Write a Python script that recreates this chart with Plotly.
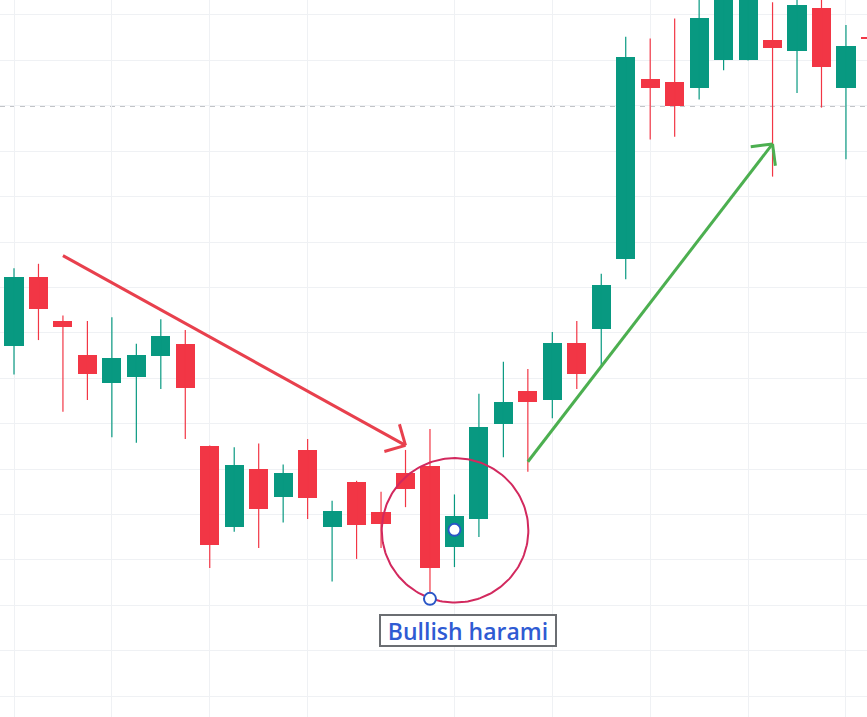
import math
import plotly.graph_objects as go

# ---------------- data ----------------
candle_idx = list(range(36))
opens = [238.5, 246.1, 241.3, 237.6, 234.5, 235.1, 237.4, 238.8, 227.5, 218.6, 225.0, 221.9,
         227.1, 218.6, 223.6, 220.3, 224.6, 225.3, 216.4, 219.5, 230.0, 233.6, 232.6, 238.9,
         240.4, 248.1, 268.0, 267.6, 267.0, 270.0, 270.0, 272.2, 271.0, 275.8, 267.0, 272.6]
highs = [247.1, 247.6, 241.9, 241.3, 241.7, 238.8, 241.5, 240.3, 227.6, 227.4, 227.8, 225.5,
         228.3, 221.5, 223.7, 222.5, 227.1, 229.4, 222.2, 233.3, 236.8, 236.0, 240.1, 241.3,
         246.5, 272.6, 272.4, 274.6, 278.3, 280.5, 283.0, 276.4, 277.8, 277.5, 273.9, 273.0]
lows = [235.4, 239.2, 231.3, 232.6, 228.5, 227.9, 233.8, 228.3, 214.1, 218.1, 216.3, 219.1,
        219.5, 212.6, 215.1, 216.3, 220.8, 210.7, 214.2, 217.5, 226.3, 224.7, 230.6, 233.8,
        236.3, 245.9, 261.3, 261.6, 265.7, 268.9, 270.0, 257.2, 266.4, 264.8, 259.1, 272.0]
closes = [246.1, 242.6, 240.6, 235.5, 237.2, 237.6, 239.6, 233.9, 216.6, 225.4, 220.6, 224.6,
          221.8, 220.4, 218.8, 218.9, 222.8, 214.1, 219.8, 229.6, 232.4, 232.4, 238.9, 235.5,
          245.3, 270.4, 267.0, 265.0, 274.7, 278.9, 281.0, 271.4, 276.1, 269.3, 271.6, 272.4]

grid_x = [0, 4, 8, 12, 18, 22, 26, 30, 34]
grid_y = [200, 205, 210, 215, 220, 225, 230, 235, 240, 245, 250, 255, 260, 265, 270, 275]
dashed_level = 265.0

red_arrow_x = [2.0, 16.0]
red_arrow_y = [248.5, 227.6]
green_arrow_x = [21.0, 31.0]
green_arrow_y = [225.8, 260.8]

circle_x = [15.03, 21.02]
circle_y = [210.3, 226.2]

marker_x = [17, 18]
marker_y = [210.7, 218.3]

label_text = "Bullish harami"
label_x = 18.55
label_y = 207.2

# ---------------- styling ----------------
W, H = 867, 717
X_RANGE = [-0.572, 34.86]
Y_RANGE = [197.69, 276.65]
UP = "#089981"
DOWN = "#F23645"

fig = go.Figure()

# candle bodies
body_base = [min(o, c) for o, c in zip(opens, closes)]
body_len = [max(abs(c - o), 0.15) for o, c in zip(opens, closes)]
body_col = [UP if c >= o else DOWN for o, c in zip(opens, closes)]
fig.add_trace(go.Bar(x=candle_idx, y=body_len, base=body_base, width=0.78,
                     marker=dict(color=body_col, line=dict(width=0)),
                     hoverinfo="skip"))

# wicks
for col, cond in ((UP, lambda o, c: c >= o), (DOWN, lambda o, c: c < o)):
    wx, wy = [], []
    for i, o, h, l, c in zip(candle_idx, opens, highs, lows, closes):
        if cond(o, c):
            wx += [i, i, None]
            wy += [l, h, None]
    fig.add_trace(go.Scatter(x=wx, y=wy, mode="lines",
                             line=dict(color=col, width=1.2), hoverinfo="skip"))

# arrows
px_x = W / (X_RANGE[1] - X_RANGE[0])
px_y = H / (Y_RANGE[1] - Y_RANGE[0])


def arrow(xs, ys, color):
    x0, x1 = xs
    y0, y1 = ys
    dxp = (x0 - x1) * px_x
    dyp = (y0 - y1) * px_y
    ang = math.atan2(dyp, dxp)
    L = 22
    hx, hy = [], []
    for s in (1, -1):
        a = ang + s * math.radians(45)
        hx += [x1 + L * math.cos(a) / px_x, x1, None]
        hy += [y1 + L * math.sin(a) / px_y, y1, None]
    fig.add_trace(go.Scatter(x=[x0, x1, None] + hx, y=[y0, y1, None] + hy,
                             mode="lines", line=dict(color=color, width=3),
                             hoverinfo="skip"))


arrow(red_arrow_x, red_arrow_y, "#E8404D")
arrow(green_arrow_x, green_arrow_y, "#4CAF50")

# circle drawing (ellipse outline in data space), drawn over candles, under markers
cx = (circle_x[0] + circle_x[1]) / 2
cy = (circle_y[0] + circle_y[1]) / 2
rx = (circle_x[1] - circle_x[0]) / 2
ry = (circle_y[1] - circle_y[0]) / 2
angles = [2 * math.pi * k / 180 for k in range(181)]
fig.add_trace(go.Scatter(x=[cx + rx * math.cos(a) for a in angles],
                         y=[cy + ry * math.sin(a) for a in angles],
                         mode="lines", line=dict(color="#D2295E", width=2),
                         hoverinfo="skip"))

# markers
fig.add_trace(go.Scatter(x=marker_x, y=marker_y, mode="markers",
                         marker=dict(size=12, color="white",
                                     line=dict(color="#2A56C6", width=2)),
                         hoverinfo="skip"))

fig.add_shape(type="line", xref="paper", yref="y", x0=0, x1=1,
              y0=dashed_level, y1=dashed_level,
              line=dict(color="#868991", width=1.4, dash="5px,5px"), layer="below")

fig.add_annotation(x=label_x, y=label_y, xref="x", yref="y", text=label_text,
                   showarrow=False,
                   font=dict(family="Open Sans", size=23, color="#2F5BD3", weight=600),
                   bgcolor="white", bordercolor="#6B6E72", borderwidth=2, borderpad=1,
                   width=172, height=27)

fig.update_layout(
    width=W, height=H, margin=dict(l=0, r=0, t=0, b=0),
    paper_bgcolor="white", plot_bgcolor="white",
    showlegend=False, hovermode=False, bargap=0,
    font=dict(family="Open Sans"),
    xaxis=dict(range=X_RANGE, tickvals=grid_x, showticklabels=False, ticks="",
               showgrid=True, gridcolor="#EFF1F4", gridwidth=1, zeroline=False,
               showline=False, fixedrange=True),
    yaxis=dict(range=Y_RANGE, tickvals=grid_y, showticklabels=False, ticks="",
               showgrid=True, gridcolor="#EFF1F4", gridwidth=1, zeroline=False,
               showline=False, fixedrange=True),
)

fig.write_html("out.html", config={"displayModeBar": False},
               post_script="document.body.style.margin='0';document.body.style.overflow='hidden';")
